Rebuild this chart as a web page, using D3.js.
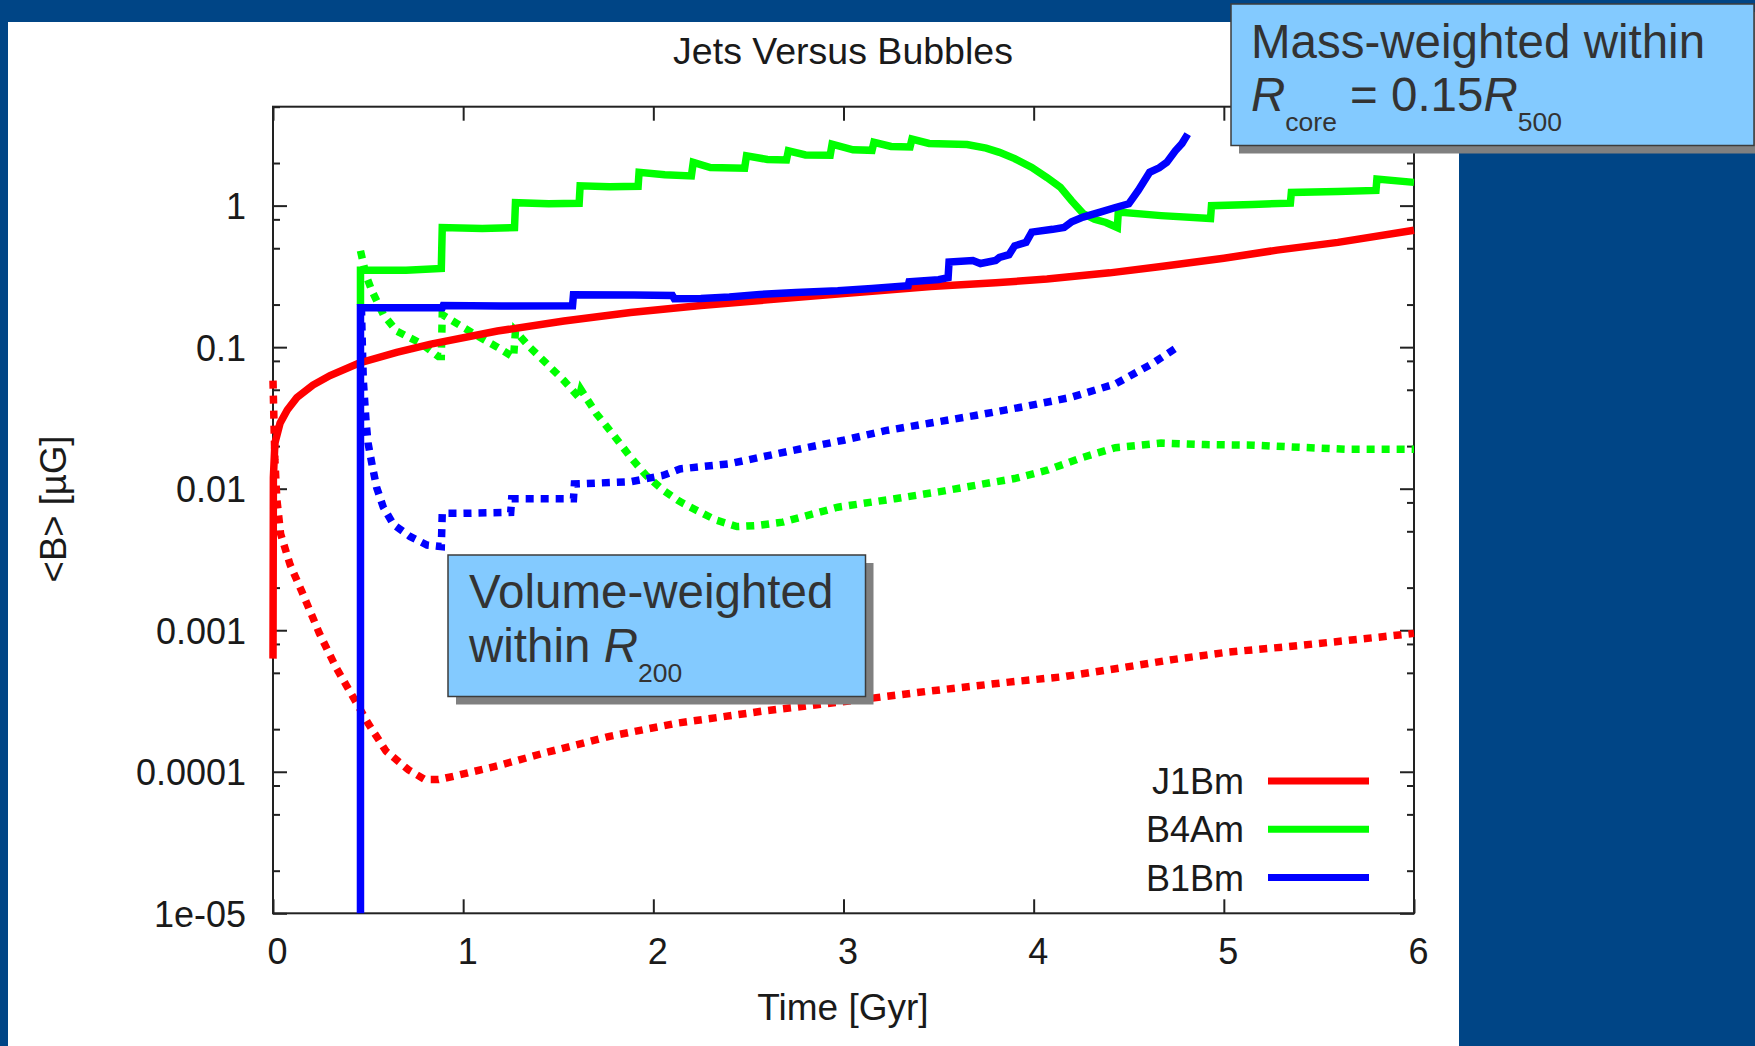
<!DOCTYPE html>
<html>
<head>
<meta charset="utf-8">
<script src="https://cdn.jsdelivr.net/npm/d3@7"></script>
<style>
  body { margin: 0; background: #004586; overflow: hidden; }
  svg { display: block; }
  text { font-family: "Liberation Sans", Arial, sans-serif; }
</style>
</head>
<body>
<script>
var width = 1755,
    height = 1046;

// time [Gyr] vs <B> [microgauss]
// solid = mass-weighted in R_core, dashed = volume-weighted in R_200
const j1bmMass = [[0, 0.00063], [0.002, 0.012], [0.01, 0.021], [0.037, 0.029], [0.075, 0.036], [0.125, 0.044],
  [0.21, 0.054], [0.3, 0.063], [0.45, 0.077], [0.65, 0.092], [0.83, 0.105], [1.18, 0.13], [1.53, 0.153],
  [1.88, 0.176], [2.25, 0.197], [2.6, 0.216], [2.97, 0.237], [3.46, 0.268], [3.8, 0.285], [4.07, 0.303],
  [4.4, 0.335], [4.67, 0.372], [5.0, 0.425], [5.28, 0.485], [5.6, 0.55], [6.0, 0.67]]
const j1bmVol = [[0, 0.058], [0.005, 0.03], [0.01, 0.016], [0.02, 0.0085], [0.04, 0.0048], [0.09, 0.0029],
  [0.15, 0.0019], [0.244, 0.00095], [0.33, 0.00055], [0.443, 0.0003], [0.5, 0.00022], [0.594, 0.00014],
  [0.713, 0.000103], [0.8, 0.000088], [0.87, 0.000088], [0.95, 0.000093], [1.18, 0.00011], [1.42, 0.000135],
  [1.77, 0.000178], [2.12, 0.00022], [2.59, 0.00027], [3.06, 0.00032], [3.44, 0.00037], [3.87, 0.00043],
  [4.16, 0.00047], [4.45, 0.00054], [4.73, 0.00062], [5.02, 0.0007], [5.31, 0.00076], [5.59, 0.00083], [6.0, 0.00095]]
const b4amMass = [[0.46, 0.20], [0.46, 0.35], [0.7, 0.35], [0.885, 0.36], [0.89, 0.70], [1.1, 0.69], [1.27, 0.70],
  [1.275, 1.05], [1.45, 1.03], [1.61, 1.04], [1.615, 1.38], [1.77, 1.36], [1.92, 1.37], [1.925, 1.72], [2.06, 1.65],
  [2.2, 1.62], [2.21, 2.02], [2.3, 1.86], [2.48, 1.84], [2.49, 2.25], [2.6, 2.12], [2.7, 2.1], [2.71, 2.44],
  [2.8, 2.28], [2.93, 2.27], [2.94, 2.72], [3.05, 2.48], [3.15, 2.46], [3.16, 2.8], [3.25, 2.62], [3.35, 2.6],
  [3.36, 2.95], [3.45, 2.75], [3.55, 2.72], [3.65, 2.7], [3.75, 2.55], [3.82, 2.38], [3.9, 2.15], [3.99, 1.86],
  [4.07, 1.58], [4.14, 1.35], [4.2, 1.08], [4.26, 0.88], [4.32, 0.8], [4.38, 0.76], [4.44, 0.70], [4.445, 0.90],
  [4.67, 0.85], [4.93, 0.81], [4.935, 1.0], [5.15, 1.02], [5.35, 1.04], [5.355, 1.24], [5.6, 1.26], [5.8, 1.28],
  [5.805, 1.54], [6.0, 1.46]]
const b4amVol = [[0.46, 0.48], [0.49, 0.32], [0.52, 0.25], [0.58, 0.17], [0.65, 0.13], [0.78, 0.106], [0.87, 0.086],
  [0.885, 0.086], [0.89, 0.17], [1.0, 0.138], [1.09, 0.117], [1.18, 0.1], [1.265, 0.085], [1.275, 0.13], [1.35, 0.1],
  [1.45, 0.074], [1.53, 0.058], [1.61, 0.044], [1.62, 0.05], [1.7, 0.034], [1.79, 0.024], [1.88, 0.0167],
  [1.96, 0.0125], [2.05, 0.0098], [2.14, 0.0081], [2.23, 0.007], [2.33, 0.006], [2.44, 0.0054], [2.55, 0.0055],
  [2.68, 0.0058], [2.97, 0.0074], [3.27, 0.0085], [3.5, 0.0095], [3.7, 0.0106], [3.9, 0.0118], [4.07, 0.0135],
  [4.25, 0.0165], [4.43, 0.0195], [4.67, 0.021], [4.9, 0.0205], [5.16, 0.0203], [5.4, 0.0196], [5.64, 0.019], [6.0, 0.019]]
const b1bmMass = [[0.46, 1e-6], [0.46, 0.19], [0.7, 0.19], [0.89, 0.19], [0.895, 0.197], [1.2, 0.195], [1.575, 0.196],
  [1.58, 0.235], [1.9, 0.234], [2.1, 0.232], [2.11, 0.22], [2.25, 0.221], [2.4, 0.226], [2.56, 0.236], [2.75, 0.243],
  [2.97, 0.25], [3.15, 0.26], [3.34, 0.272], [3.345, 0.29], [3.5, 0.30], [3.55, 0.31], [3.555, 0.4], [3.68, 0.41],
  [3.72, 0.39], [3.8, 0.41], [3.82, 0.43], [3.87, 0.45], [3.9, 0.52], [3.96, 0.55], [3.99, 0.65], [4.1, 0.68],
  [4.16, 0.70], [4.2, 0.77], [4.26, 0.83], [4.35, 0.9], [4.43, 0.97], [4.5, 1.03], [4.55, 1.28], [4.61, 1.72],
  [4.66, 1.85], [4.7, 2.02], [4.745, 2.44], [4.78, 2.75], [4.81, 3.2]]
const b1bmVol = [[0.465, 0.19], [0.47, 0.1], [0.475, 0.058], [0.483, 0.04], [0.49, 0.029], [0.5, 0.021], [0.52, 0.015],
  [0.545, 0.0102], [0.58, 0.0074], [0.633, 0.0056], [0.72, 0.0046], [0.81, 0.004], [0.885, 0.0039], [0.89, 0.0067],
  [1.0, 0.0067], [1.25, 0.0068], [1.255, 0.0085], [1.58, 0.0085], [1.585, 0.0108], [1.88, 0.0112], [2.05, 0.0124],
  [2.14, 0.0138], [2.4, 0.015], [2.73, 0.0186], [3.0, 0.022], [3.22, 0.0257], [3.45, 0.029], [3.7, 0.033],
  [3.95, 0.038], [4.19, 0.044], [4.43, 0.055], [4.62, 0.076], [4.77, 0.103]]

const names = ["J1Bm", "B4Am", "B1Bm"]
const colors = ["#ff0000", "#00ff00", "#0000ff"]
const xTicks = [0, 1, 2, 3, 4, 5, 6]
const yTicks = [1e-5, 1e-4, 1e-3, 1e-2, 0.1, 1]
const yTickLabels = ["1e-05", "0.0001", "0.001", "0.01", "0.1", "1"]

let yMinor = []
yTicks.forEach(d => [2, 5, 8].forEach(m => { if (d * m <= 5) yMinor.push(d * m) }))

const svg = d3.select("body").append("svg")
        .attr("width", width)
        .attr("height", height);

svg.append("rect").attr("width", width).attr("height", height).attr("fill", "#004586");
svg.append("rect").attr("x", 8).attr("y", 22).attr("width", 1451).attr("height", height - 22).attr("fill", "#fff");

const plot = {left: 273, right: 1414, top: 106.7, bottom: 913.3}
const x = d3.scaleLinear().domain([0, 6]).range([plot.left, plot.right]);
const y = d3.scaleLog().domain([1e-5, 5]).range([plot.bottom, plot.top]);

const styleAxis = g => {
  g.select(".domain").remove();
  g.selectAll(".tick line").attr("stroke", "#222").attr("stroke-width", 2);
  g.selectAll("text").attr("font-size", 36).attr("fill", "#1a1a1a")
    .attr("font-family", '"Liberation Sans", Arial, sans-serif');
}

svg.append("g").attr("transform", `translate(0,${plot.bottom})`)
  .call(d3.axisBottom(x).tickValues(xTicks).tickFormat(d3.format("d")).tickSizeInner(-14).tickSizeOuter(0).tickPadding(25))
  .call(styleAxis)
  .selectAll("text").attr("dx", 4);
svg.append("g").attr("transform", `translate(0,${plot.top})`)
  .call(d3.axisTop(x).tickValues(xTicks).tickFormat("").tickSizeInner(-14).tickSizeOuter(0))
  .call(styleAxis);
svg.append("g").attr("transform", `translate(${plot.left},0)`)
  .call(d3.axisLeft(y).tickValues(yTicks).tickFormat((d, i) => yTickLabels[i]).tickSizeInner(-14).tickSizeOuter(0).tickPadding(27))
  .call(styleAxis)
  .selectAll("text").attr("dy", "0.36em");
svg.append("g").attr("transform", `translate(${plot.left},0)`)
  .call(d3.axisLeft(y).tickValues(yMinor).tickFormat("").tickSizeInner(-7).tickSizeOuter(0))
  .call(styleAxis);
svg.append("g").attr("transform", `translate(${plot.right},0)`)
  .call(d3.axisRight(y).tickValues(yTicks).tickFormat("").tickSizeInner(-14).tickSizeOuter(0))
  .call(styleAxis);
svg.append("g").attr("transform", `translate(${plot.right},0)`)
  .call(d3.axisRight(y).tickValues(yMinor).tickFormat("").tickSizeInner(-7).tickSizeOuter(0))
  .call(styleAxis);

svg.append("rect")
  .attr("x", plot.left).attr("y", plot.top)
  .attr("width", plot.right - plot.left).attr("height", plot.bottom - plot.top)
  .attr("fill", "none").attr("stroke", "#222").attr("stroke-width", 2);

// titles
svg.append("text").attr("x", 843).attr("y", 64).attr("text-anchor", "middle")
  .attr("font-size", 37.5).attr("fill", "#1a1a1a").text("Jets Versus Bubbles");
svg.append("text").attr("x", 843).attr("y", 1020).attr("text-anchor", "middle")
  .attr("font-size", 37).attr("fill", "#1a1a1a").text("Time [Gyr]");
svg.append("text").attr("transform", "translate(66,509) rotate(-90)").attr("text-anchor", "middle")
  .attr("font-size", 36.5).attr("fill", "#1a1a1a").text("<B> [\u00b5G]");

// curves
svg.append("clipPath").attr("id", "clip").append("rect")
  .attr("x", plot.left - 10).attr("y", plot.top).attr("width", plot.right - plot.left + 20)
  .attr("height", plot.bottom - plot.top);

const line = d3.line().x(d => x(d[0])).y(d => y(d[1]));
const curves = svg.append("g").attr("clip-path", "url(#clip)");

const dashed = [j1bmVol, b4amVol, b1bmVol]
const solid = [j1bmMass, b4amMass, b1bmMass]

dashed.forEach((data, i) => {
  curves.append("path").datum(data).attr("d", line)
    .attr("fill", "none").attr("stroke", colors[i]).attr("stroke-width", 7.5)
    .attr("stroke-dasharray", "8,7");
});
solid.forEach((data, i) => {
  curves.append("path").datum(data).attr("d", line)
    .attr("fill", "none").attr("stroke", colors[i]).attr("stroke-width", 7.5);
});

// legend
const legend = svg.append("g");
names.forEach((n, i) => {
  const ly = 781 + i * 48.3;
  legend.append("text").attr("x", 1244).attr("y", ly).attr("dy", "0.36em").attr("text-anchor", "end")
    .attr("font-size", 36).attr("fill", "#1a1a1a").text(n);
  legend.append("line").attr("x1", 1268).attr("x2", 1369).attr("y1", ly).attr("y2", ly)
    .attr("stroke", colors[i]).attr("stroke-width", 7);
});

// annotation boxes
const note = (bx, by, bw, bh) => {
  svg.append("rect").attr("x", bx + 8).attr("y", by + 8).attr("width", bw).attr("height", bh).attr("fill", "#808080");
  svg.append("rect").attr("x", bx).attr("y", by).attr("width", bw).attr("height", bh)
    .attr("fill", "#83caff").attr("stroke", "#3c3c3c").attr("stroke-width", 1.5);
  return svg.append("g").attr("font-size", 47.5).attr("fill", "#333");
}

const vol = note(448, 555, 417.5, 141.5);
vol.append("text").attr("x", 469).attr("y", 607.7).text("Volume-weighted");
const vl = vol.append("text").attr("x", 469).attr("y", 661.7);
vl.append("tspan").text("within ");
vl.append("tspan").attr("font-style", "italic").text("R");
vl.append("tspan").attr("font-size", 26.5).attr("dy", 20).text("200");

const mass = note(1231, 4, 523, 141.5);
mass.append("text").attr("x", 1251).attr("y", 58.3).text("Mass-weighted within");
const ml = mass.append("text").attr("x", 1251).attr("y", 111);
ml.append("tspan").attr("font-style", "italic").text("R");
ml.append("tspan").attr("font-size", 26.5).attr("dy", 20).text("core");
ml.append("tspan").attr("dy", -20).text(" = 0.15");
ml.append("tspan").attr("font-style", "italic").text("R");
ml.append("tspan").attr("font-size", 26.5).attr("dy", 20).text("500");
</script>
</body>
</html>
